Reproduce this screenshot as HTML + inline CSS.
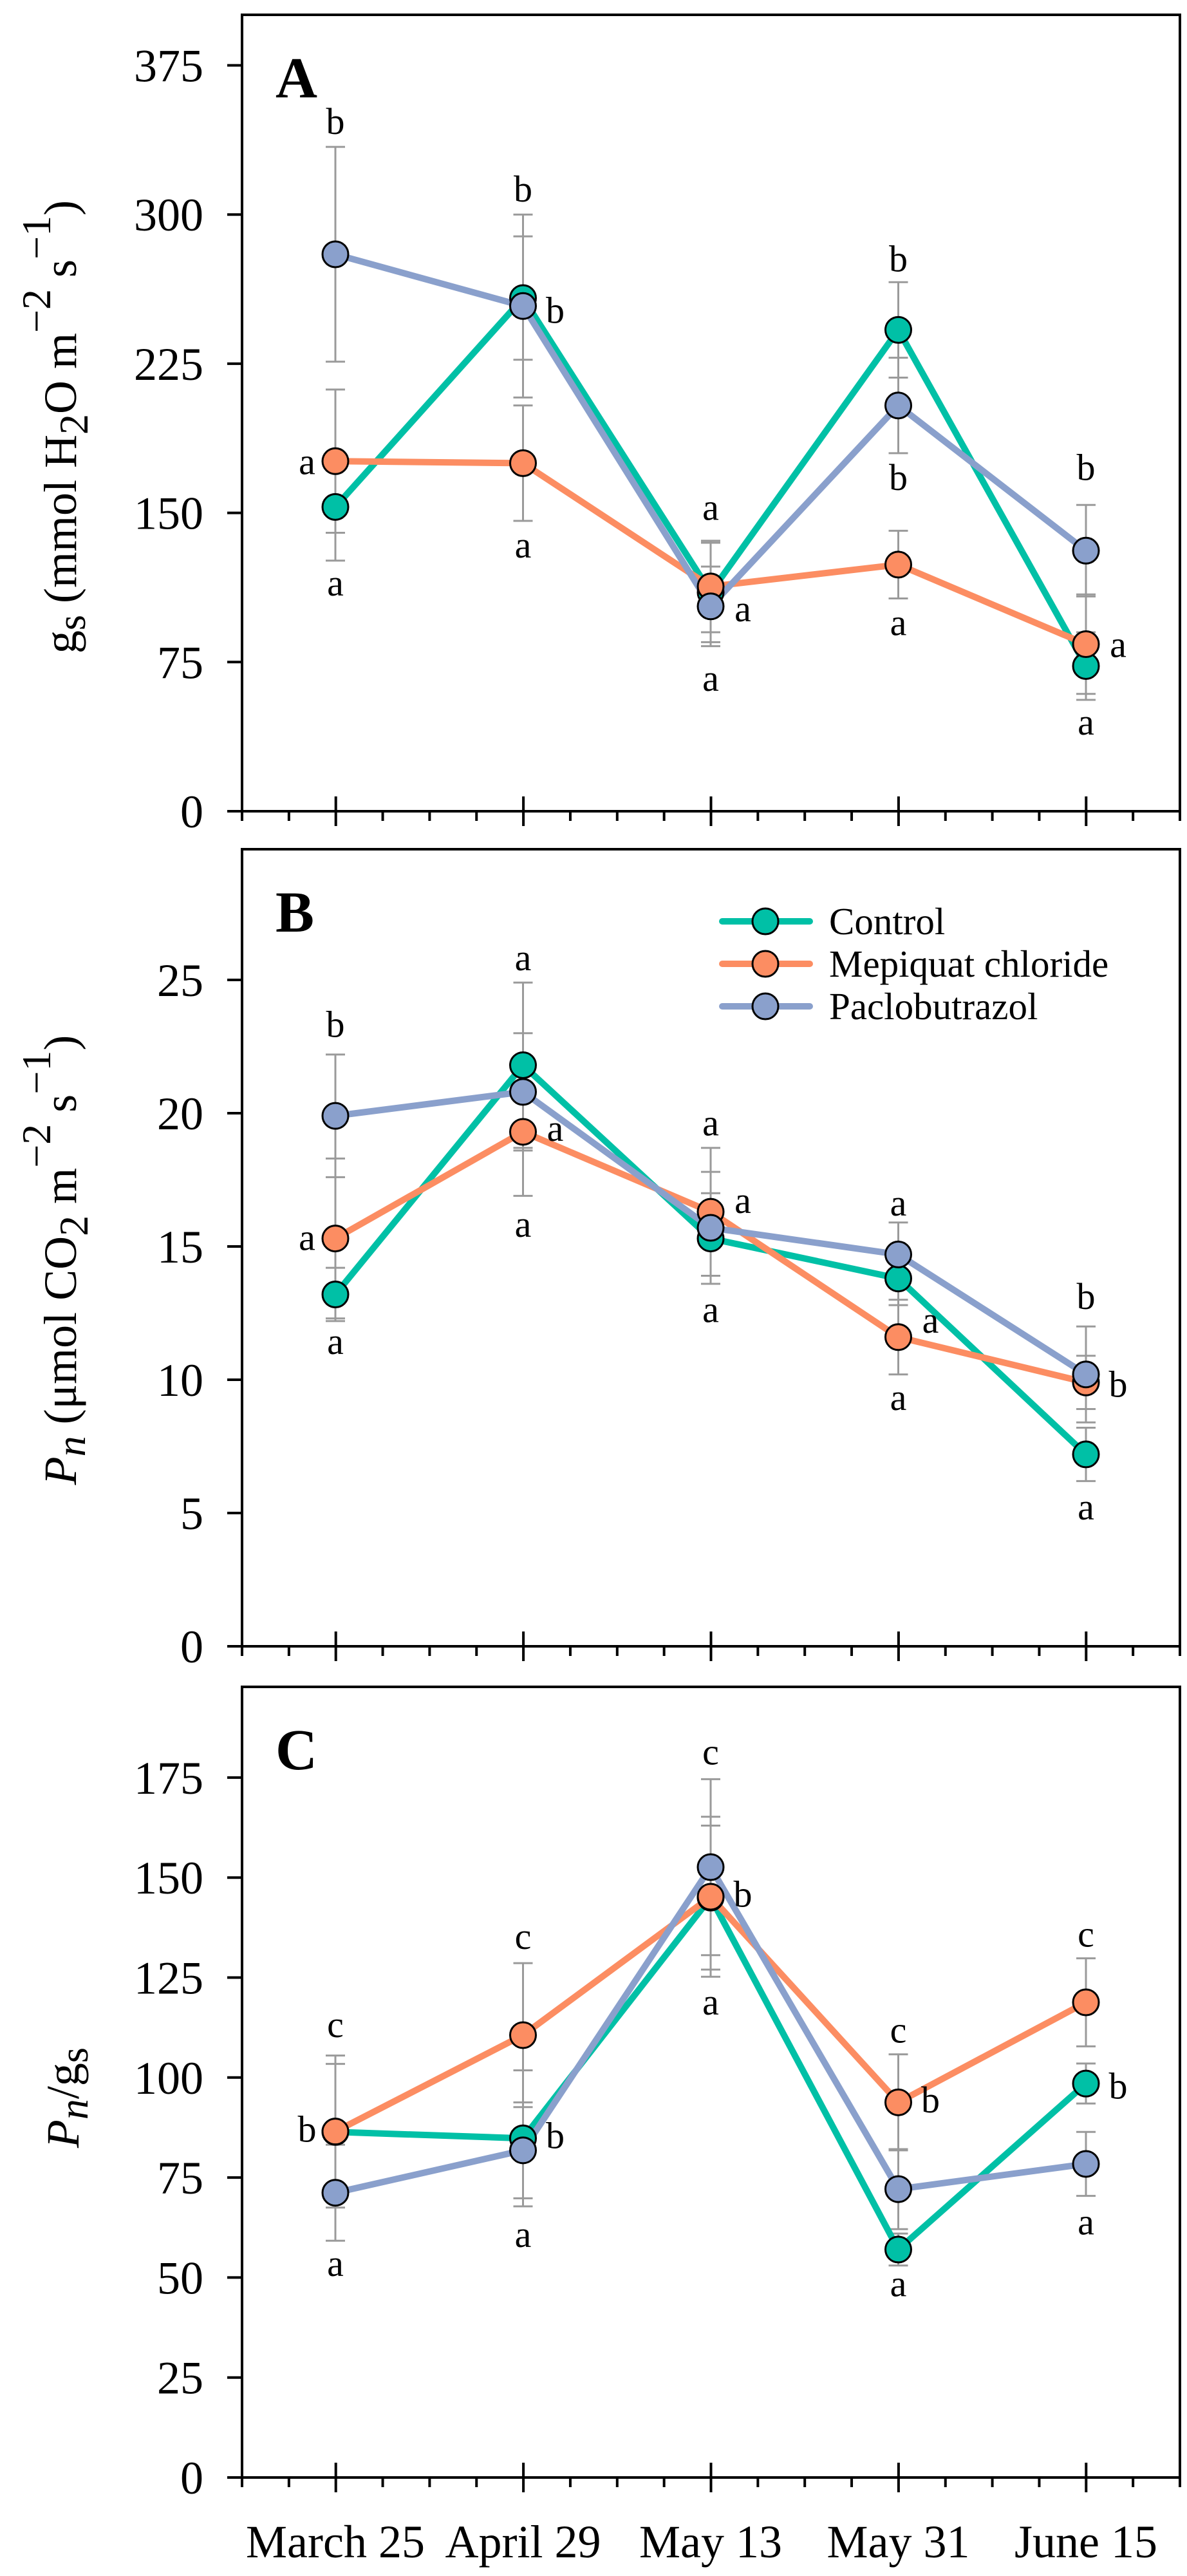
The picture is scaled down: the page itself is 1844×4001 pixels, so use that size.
<!DOCTYPE html>
<html><head><meta charset="utf-8"><style>
html,body{margin:0;padding:0;background:#fff}
svg{display:block}
text{font-family:"Liberation Serif","Times New Roman",serif;fill:#000}
</style></head><body>
<svg id="chart" width="1844" height="4001" viewBox="0 0 1844 4001" xmlns="http://www.w3.org/2000/svg" font-family="Liberation Serif, serif"></svg>
<script>
const categories = ["March 25","April 29","May 13","May 31","June 15"];
const seriesNames = ["Control","Mepiquat chloride","Paclobutrazol"];
// Panel A: gs
const gsControl = [153,258,110,242,73];
const gsMepiquat = [176,175,113,124,84];
const gsPaclo = [280,254,103,204,131];
const gsErrControl = [27,31,25,24,17];
const gsErrMepiquat = [36,29,23,17,25];
const gsErrPaclo = [54,46,20,24,23];
const gsTicks = [0,75,150,225,300,375];
const gsLetters = ["b","a","a","b","b","a","a","a","a","b","b","a","b","a","a"];
const gsLetterVals = [345,174,113,311,250,132,151,100,65,276,166,93,171,82,43];
const gsLetterCats = [0,0,0,1,1,1,2,2,2,3,3,3,4,4,4];
const gsLetterSides = ["t","l","b","t","r","b","t","r","b","t","b","b","t","r","b"];
// Panel B: Pn
const pnControl = [13.2,21.8,15.3,13.8,7.2];
const pnMepiquat = [15.3,19.3,16.3,11.6,9.9];
const pnPaclo = [19.9,20.8,15.7,14.7,10.2];
const pnErrControl = [1.0,3.1,1.7,1.0,1.0];
const pnErrMepiquat = [3.0,2.4,2.4,1.4,1.0];
const pnErrPaclo = [2.3,2.2,2.1,1.2,1.8];
const pnTicks = [0,5,10,15,20,25];
const pnLetters = ["b","a","a","a","a","a","a","a","a","a","a","a","b","b","a"];
const pnLetterVals = [23.2,15.2,11.3,25.7,19.3,15.7,19.5,16.6,12.5,16.5,12.1,9.2,13.0,9.7,5.1];
const pnLetterCats = [0,0,0,1,1,1,2,2,2,3,3,3,4,4,4];
const pnLetterSides = ["t","l","b","t","r","b","t","r","b","t","r","b","t","r","b"];
// Panel C: Pn/gs
const wueControl = [86.4,84.8,145,57,98.5];
const wueMepiquat = [86.5,110.6,145.2,93.8,118.8];
const wuePaclo = [71.2,81.8,152.6,72.1,78.4];
const wueErrControl = [17,17,18,4,5];
const wueErrMepiquat = [19,18,20,12,11];
const wueErrPaclo = [12,12,22,10,8];
const wueTicks = [0,25,50,75,100,125,150,175];
const wueLetters = ["c","b","a","c","b","a","c","b","a","c","b","a","c","b","a"];
const wueLetterVals = [112.4,86.2,52.6,134.4,84.6,59.9,180.5,145,118,111,93.5,47.6,135,97,63];
const wueLetterCats = [0,0,0,1,1,1,2,2,2,3,3,3,4,4,4];
const wueLetterSides = ["t","l","b","t","r","b","t","r","b","t","r","b","t","r","b"];

const NS = "http://www.w3.org/2000/svg";
const svg = document.getElementById("chart");
const colors = ["#00C0A6","#FC8D62","#8AA0CC"];
const LEFT = 376, RIGHT = 1833, CAT0 = 521, CATSTEP = 291.5;
function xScale(i){ return CAT0 + i*CATSTEP; }
function mk(tag, attrs, parent){
  const e = document.createElementNS(NS, tag);
  for (const k in attrs) e.setAttribute(k, attrs[k]);
  (parent||svg).appendChild(e); return e;
}

function panel(p){
  const g = mk("g", {});
  
  
  const yScale = v => p.axisY - v * p.k;
  const fr = mk("rect", {x:LEFT, y:p.top, width:RIGHT-LEFT, height:p.axisY-p.top, fill:"none", stroke:"#000","stroke-width":4}, g);
  
  
  const ax = mk("line", {x1:353, x2:RIGHT, y1:p.axisY, y2:p.axisY, stroke:"#000","stroke-width":4}, g);
  
  
  for (let j=0;j<=20;j++){
    const x = LEFT + (j/20)*(RIGHT-LEFT);
    const major = (j%4===2);
    const t = mk("line", {x1:x, x2:x, y1: major? p.axisY-23 : p.axisY, y2: major? p.axisY+23 : p.axisY+15, stroke:"#000","stroke-width":4}, g);
    
    
  }
  p.ticks.forEach(v=>{
    const y = yScale(v);
    const t = mk("line", {x1:353, x2:LEFT, y1:y, y2:y, stroke:"#000","stroke-width":4}, g);
    
    
    const l = mk("text", {x:316, y:y+25, "font-size":72, "text-anchor":"end", "font-family":"Liberation Serif, serif"}, g);
    l.textContent = v;
    
    
  });
  const pl = mk("text", {x:428, y:p.top+128, "font-size":90, "font-weight":"bold", "font-family":"Liberation Serif, serif"}, g);
  pl.textContent = p.label;
  
  
  p.series.forEach((s, si)=>{
    s.forEach((v,i)=>{
      const x = xScale(i), e = p.errs[si][i];
      const eg = mk("g", {stroke:"#9a9a9a","stroke-width":3}, g);
      
      
      mk("line", {x1:x,x2:x,y1:yScale(v+e),y2:yScale(v-e)}, eg);
      mk("line", {x1:x-15,x2:x+15,y1:yScale(v+e),y2:yScale(v+e)}, eg);
      mk("line", {x1:x-15,x2:x+15,y1:yScale(v-e),y2:yScale(v-e)}, eg);
    });
  });
  p.series.forEach((s, si)=>{
    const pts = s.map((v,i)=>xScale(i)+","+yScale(v)).join(" ");
    const pl2 = mk("polyline", {points:pts, fill:"none", stroke:colors[si], "stroke-width":10, "stroke-linejoin":"round"}, g);
    
    
  });
  p.series.forEach((s, si)=>{
    s.forEach((v,i)=>{
      const c = mk("circle", {cx:xScale(i), cy:yScale(v), r:20, fill:colors[si], stroke:"#000","stroke-width":3}, g);
      
      
    });
  });
  p.letters.forEach((L, li)=>{
    const side = p.lSides[li];
    let x = xScale(p.lCats[li]);
    if (side==="l") x -= 44;
    if (side==="r") x += 50;
    const t = mk("text", {x:x, y:yScale(p.lVals[li])+14, "font-size":58, "text-anchor":"middle", "font-family":"Liberation Serif, serif"}, g);
    t.textContent = L;
    
    
  });
  return g;
}

panel({name:"panel-a-gs", label:"A", top:23, axisY:1260, k:231.7/75, ticks:gsTicks,
  series:[gsControl,gsMepiquat,gsPaclo], errs:[gsErrControl,gsErrMepiquat,gsErrPaclo],
  letters:gsLetters, lVals:gsLetterVals, lCats:gsLetterCats, lSides:gsLetterSides});
panel({name:"panel-b-pn", label:"B", top:1319, axisY:2557, k:41.4, ticks:pnTicks,
  series:[pnControl,pnMepiquat,pnPaclo], errs:[pnErrControl,pnErrMepiquat,pnErrPaclo],
  letters:pnLetters, lVals:pnLetterVals, lCats:pnLetterCats, lSides:pnLetterSides});
panel({name:"panel-c-pn-gs", label:"C", top:2620, axisY:3848, k:6.212, ticks:wueTicks,
  series:[wueControl,wueMepiquat,wuePaclo], errs:[wueErrControl,wueErrMepiquat,wueErrPaclo],
  letters:wueLetters, lVals:wueLetterVals, lCats:wueLetterCats, lSides:wueLetterSides});

categories.forEach((c,i)=>{
  const t = mk("text", {x:xScale(i), y:3972, "font-size":72, "text-anchor":"middle", "font-family":"Liberation Serif, serif"});
  t.textContent = c;
  
  
});

const lg = mk("g", {});


seriesNames.forEach((n,i)=>{
  const y = 1431 + i*66;
  const e = mk("g", {}, lg);
  
  
  mk("line", {x1:1122,x2:1258,y1:y,y2:y,stroke:colors[i],"stroke-width":10,"stroke-linecap":"round"}, e);
  mk("circle", {cx:1189, cy:y, r:20, fill:colors[i], stroke:"#000","stroke-width":3}, e);
  const t = mk("text", {x:1288, y:y+20, "font-size":59, "font-family":"Liberation Serif, serif"}, e);
  t.textContent = n;
});
</script>
<script>
(function(){
  const NS2 = "http://www.w3.org/2000/svg";
  const s = document.getElementById("chart");
  function title(html, cx, cy, name){
    const t = document.createElementNS(NS2, "text");
    t.setAttribute("transform", "translate("+cx+","+cy+") rotate(-90)");
    t.setAttribute("text-anchor", "middle");
    t.setAttribute("font-size", "72");
    t.setAttribute("font-family", "Liberation Serif, serif");
    t.innerHTML = html;
    
    
    s.appendChild(t);
  }
  title('g<tspan baseline-shift="-14" font-size="62">s</tspan> (mmol H<tspan baseline-shift="-18" font-size="64">2</tspan>O m<tspan baseline-shift="40" font-size="64">−2</tspan> s<tspan baseline-shift="40" font-size="64">−1</tspan>)', 118, 663, 'y-axis-title-gs');
  title('<tspan font-style="italic">P</tspan><tspan font-style="italic" baseline-shift="-14" font-size="64">n</tspan> (μmol CO<tspan baseline-shift="-18" font-size="64">2</tspan> m<tspan baseline-shift="40" font-size="64">−2</tspan> s<tspan baseline-shift="40" font-size="64">−1</tspan>)', 118, 1957, 'y-axis-title-pn');
  title('<tspan font-style="italic">P</tspan><tspan font-style="italic" baseline-shift="-14" font-size="64">n</tspan>/g<tspan baseline-shift="-14" font-size="62">s</tspan>', 122, 3258, 'y-axis-title-pn-gs');
})();
</script>
</body></html>
